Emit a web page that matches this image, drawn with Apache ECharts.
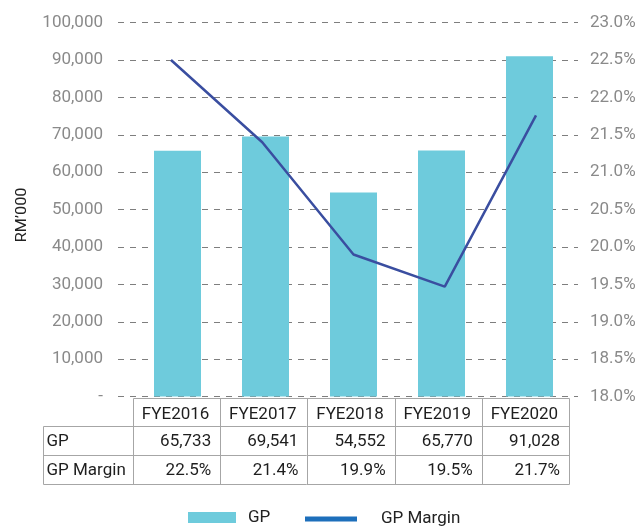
<!DOCTYPE html>
<html><head><meta charset="utf-8">
<script src="https://cdn.jsdelivr.net/npm/echarts@6/dist/echarts.min.js"></script>
<style>html,body{margin:0;padding:0;background:#fff}#c{width:640px;height:526px}</style>
</head><body><div id="c"></div>
<script>
const categories = ['FYE2016', 'FYE2017', 'FYE2018', 'FYE2019', 'FYE2020'];
const gpValues = [65733, 69541, 54552, 65770, 91028];
const marginValues = [22.5, 21.4, 19.9, 19.47, 21.76];
const marginLabels = ['22.5%', '21.4%', '19.9%', '19.5%', '21.7%'];
const rowLabels = ['GP', 'GP Margin'];
const yAxisTitle = 'RM\u2019000';
const leftAxis = { min: 0, max: 100000, interval: 10000 };
const rightAxis = { min: 18, max: 23, interval: 0.5 };

const FONT = 'Roboto';
const chart = echarts.init(document.getElementById('c'));
const fmtNum = v => v === 0 ? '-' : v.toLocaleString('en-US');
const fmtPct = v => v.toFixed(1) + '%';
const TOP = 22.6, BOTTOM = 129.4;

const option = {
  animation: false,
  textStyle: { fontFamily: FONT },
  grid: [
    { left: 133.5, right: 66.5, top: TOP, bottom: BOTTOM },   // bars
    { left: 118, right: 62, top: TOP, bottom: BOTTOM },       // gridlines + labels
    { left: 171, right: 104, top: TOP, bottom: BOTTOM },      // line
    { left: 133, right: 71, top: TOP, bottom: BOTTOM }        // table columns
  ],
  xAxis: [
    { type: 'category', gridIndex: 0, data: categories, axisLine: { show: false }, axisTick: { show: false }, axisLabel: { show: false } },
    { type: 'value', gridIndex: 1, min: 0, max: 1, show: false },
    { type: 'category', gridIndex: 2, data: categories, boundaryGap: false, show: false },
    { type: 'category', gridIndex: 3, data: categories, show: false }
  ],
  yAxis: [
    { type: 'value', gridIndex: 0, min: leftAxis.min, max: leftAxis.max, interval: leftAxis.interval, show: false },
    { type: 'value', gridIndex: 2, position: 'right', min: rightAxis.min, max: rightAxis.max, interval: rightAxis.interval, show: false },
    { type: 'value', gridIndex: 1, min: leftAxis.min, max: leftAxis.max, interval: leftAxis.interval,
      axisLine: { show: false }, axisTick: { show: false },
      axisLabel: { formatter: fmtNum, color: '#8a8a8a', fontSize: 17, margin: 15, fontFamily: FONT },
      splitLine: { show: true, lineStyle: { color: '#7e7e7e', type: [6, 6], width: 1 } } },
    { type: 'value', gridIndex: 1, position: 'right', min: rightAxis.min, max: rightAxis.max, interval: rightAxis.interval,
      axisLine: { show: false }, axisTick: { show: false },
      axisLabel: { formatter: fmtPct, color: '#8a8a8a', fontSize: 17, margin: 12, fontFamily: FONT },
      splitLine: { show: false } },
    { type: 'value', gridIndex: 3, min: 0, max: 1, show: false }
  ],
  legend: [
    { top: 504, left: 183, itemWidth: 48, itemHeight: 11, icon: 'rect',
      textStyle: { color: '#222', fontSize: 17, fontFamily: FONT, padding: [0, 0, 0, 7] },
      data: ['GP'] },
    { top: 505.5, left: 300, itemWidth: 52, itemHeight: 5, icon: 'rect',
      itemStyle: { color: '#1d6fbb' },
      textStyle: { color: '#222', fontSize: 17, fontFamily: FONT, padding: [0, 0, 0, 19] },
      data: ['GP Margin'] }
  ],
  series: [
    { name: 'GP', type: 'bar', xAxisIndex: 0, yAxisIndex: 0, data: gpValues, barWidth: 47,
      itemStyle: { color: '#6ecbdc' } },
    { name: 'GP Margin', type: 'line', xAxisIndex: 2, yAxisIndex: 1, data: marginValues, symbol: 'none',
      lineStyle: { color: '#3a4ea0', width: 2.5 }, itemStyle: { color: '#3a4ea0' } }
  ]
};
chart.setOption(option);

// Data table under the plot, aligned to the table category axis
const c0 = chart.convertToPixel({ xAxisIndex: 3 }, categories[0]);
const c1 = chart.convertToPixel({ xAxisIndex: 3 }, categories[1]);
const band = c1 - c0;
const tLeft = c0 - band / 2;
const tRight = tLeft + band * categories.length;
const yTop = Math.round(chart.convertToPixel({ yAxisIndex: 0 }, 0)) + 1.5;
const rowH = [28, 29, 29];
const rowY = [yTop, yTop + rowH[0], yTop + rowH[0] + rowH[1], yTop + rowH[0] + rowH[1] + rowH[2]];
const labelLeft = 43.5;
const border = { stroke: '#a6a6a6', lineWidth: 1 };
const els = [];
const hline = (x1, x2, y) => els.push({ type: 'line', shape: { x1, y1: y, x2, y2: y }, style: border, z: 10 });
const vline = (x, y1, y2) => els.push({ type: 'line', shape: { x1: x, y1, x2: x, y2 }, style: border, z: 10 });
hline(Math.round(tLeft) + 0.5, Math.round(tRight) + 0.5, rowY[0]);
hline(labelLeft, Math.round(tRight) + 0.5, rowY[1]);
hline(labelLeft, Math.round(tRight) + 0.5, rowY[2]);
hline(labelLeft, Math.round(tRight) + 0.5, rowY[3]);
vline(labelLeft, rowY[1], rowY[3]);
for (let i = 0; i <= categories.length; i++) {
  vline(Math.round(tLeft + band * i) + 0.5, rowY[0], rowY[3]);
}
const txt = (x, y, text, align) => els.push({ type: 'text', x, y, z: 11,
  style: { text, fill: '#1e1e1e', font: '17px ' + FONT, textAlign: align, textVerticalAlign: 'middle' } });
categories.forEach((c, i) => {
  const cx = tLeft + band * (i + 0.5);
  const rx = tLeft + band * (i + 1) - 9;
  txt(cx - 1, (rowY[0] + rowY[1]) / 2 + 2, c, 'center');
  txt(rx, (rowY[1] + rowY[2]) / 2 + 1, fmtNum(gpValues[i]), 'right');
  txt(rx, (rowY[2] + rowY[3]) / 2 + 1, marginLabels[i], 'right');
});
rowLabels.forEach((r, k) => txt(labelLeft + 3, (rowY[k + 1] + rowY[k + 2]) / 2 + 1, r, 'left'));
// Y axis title
els.push({ type: 'text', x: 22.5, y: 215, rotation: Math.PI / 2, scaleX: 1.08, z: 11,
  style: { text: yAxisTitle, fill: '#222', font: '15px ' + FONT, textAlign: 'center', textVerticalAlign: 'middle' } });
chart.setOption({ graphic: { elements: els } });
</script></body></html>
